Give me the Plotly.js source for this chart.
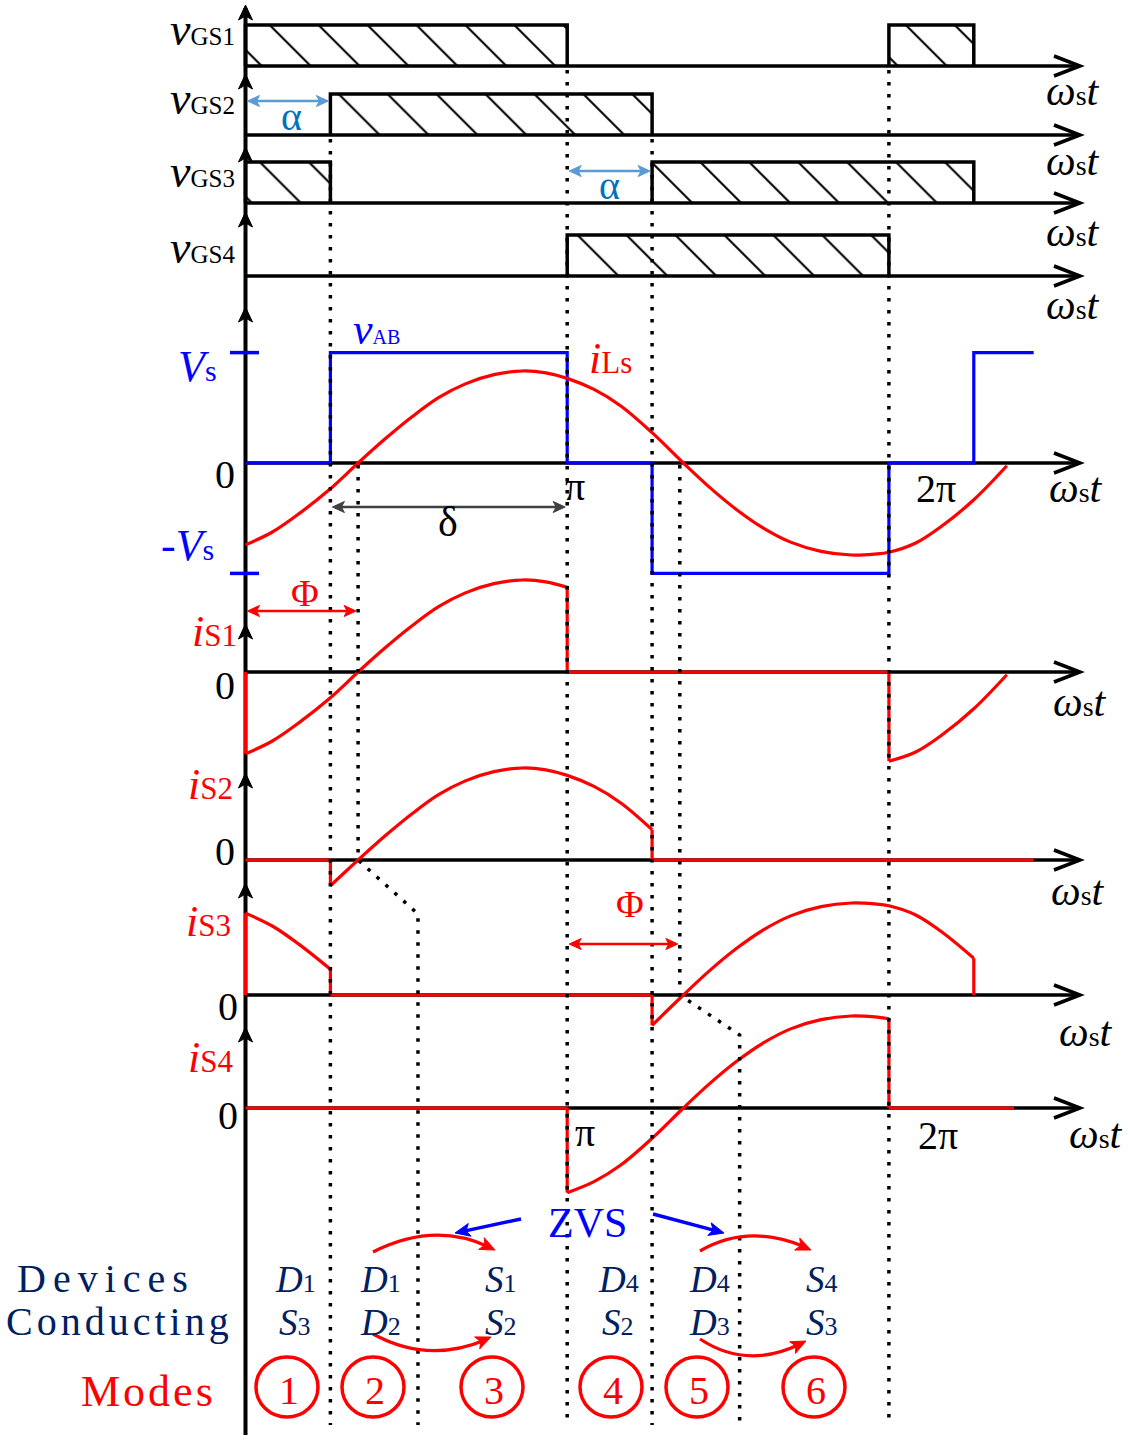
<!DOCTYPE html>
<html>
<head>
<meta charset="utf-8">
<script src="https://cdn.plot.ly/plotly-3.0.1.min.js"></script>
<style>html,body{margin:0;padding:0;background:#fff}</style>
</head>
<body>
<div id="chart" style="width:1129px;height:1435px"></div>
<script>
// ---------------- waveform data (angles in degrees of ωs·t) ----------------
const ALPHA = 47.5;   // gate shift α between the two legs
const PHI = 63;       // lag Φ of the resonant current
const MODE3 = 96.5;   // S1/S2 take over from the diodes
const MODE6 = 276.5;  // S3/S4 take over from the diodes

// resonant inductor current i_Ls (per-unit of its peak)
const theta = [0, 15, 30, 47.5, 63, 78, 93, 108, 123, 139, 155, 168, 180, 195, 210, 227.5,
               245, 260, 275, 290, 305, 322, 339, 352, 360, 375, 390, 407.5, 426];
const iLs   = [-0.89, -0.75, -0.55, -0.28, 0, 0.26, 0.50, 0.71, 0.86, 0.96, 1.00, 0.98, 0.92, 0.80, 0.62, 0.33,
               0, -0.27, -0.51, -0.71, -0.86, -0.96, -1.00, -0.99, -0.97, -0.87, -0.68, -0.40, -0.03];

// bridge output voltage v_AB (step levels, Vs = 1.2)
const vabTimes  = [0, 47.5, 180, 227.5, 360, 407.5, 441];
const vabLevels = [0, 1.2, 0, -1.2, 0, 1.2, 1.2];
const VS_LEVEL = 1.2;

// gate pulses (on-intervals)
const gate1 = [[0, 180], [360, 407.5]];
const gate2 = [[47.5, 227.5]];
const gate3 = [[0, 47.5], [227.5, 407.5]];
const gate4 = [[180, 360]];

// switch conduction windows, polarity relative to i_Ls, and idle (zero) runs
const s1Windows = [[0, 180], [360, 426]];      const s1Zero = [[180, 360]];              const s1Sign = 1;
const s2Windows = [[47.5, 227.5]];             const s2Zero = [[0, 47.5], [227.5, 441]]; const s2Sign = 1;
const s3Windows = [[0, 47.5], [227.5, 407.5]]; const s3Zero = [[47.5, 227.5]];           const s3Sign = -1;
const s4Windows = [[180, 360]];                const s4Zero = [[0, 180], [360, 430]];    const s4Sign = -1;

// conducting devices per mode (letter, index)
const modeTop = [['D', '1'], ['D', '1'], ['S', '1'], ['D', '4'], ['D', '4'], ['S', '4']];
const modeBot = [['S', '3'], ['D', '2'], ['S', '2'], ['S', '2'], ['D', '3'], ['S', '3']];
const modeNums = ['1', '2', '3', '4', '5', '6'];

// ---------------- drawing ----------------
const W = 1129, H = 1435;
const X0 = 245.5;               // pixel column of ωs·t = 0
const DEG = 321.7 / 180;        // pixels per degree
const SERIF = '"Liberation Serif", "DejaVu Serif", serif';
const RED = '#ff0000', BLUE = '#0000ff', NAVY = '#002060', BLACK = '#000000';

const px = x => x / W;
const py = y => 1 - y / H;

// each row gets its own hidden y-axis: zero line pixel and pixels per unit
const rowDefs = [
  {id: 'y',  key: 'g1',  zero: 66,   unit: 41},
  {id: 'y2', key: 'g2',  zero: 135,  unit: 41},
  {id: 'y3', key: 'g3',  zero: 203,  unit: 41},
  {id: 'y4', key: 'g4',  zero: 276,  unit: 41},
  {id: 'y5', key: 'vab', zero: 463,  unit: 92},
  {id: 'y6', key: 's1',  zero: 672,  unit: 92},
  {id: 'y7', key: 's2',  zero: 860,  unit: 92},
  {id: 'y8', key: 's3',  zero: 995,  unit: 92},
  {id: 'y9', key: 's4',  zero: 1108, unit: 92}
];
const R = {}; rowDefs.forEach(r => R[r.key] = r);

const layout = {
  width: W, height: H, autosize: false,
  margin: {l: 0, r: 0, t: 0, b: 0, pad: 0},
  paper_bgcolor: '#ffffff', plot_bgcolor: 'rgba(0,0,0,0)',
  showlegend: false,
  font: {family: SERIF},
  xaxis: {domain: [0, 1], range: [-X0 / DEG, (W - X0) / DEG], visible: false, fixedrange: true},
  shapes: [], annotations: []
};
rowDefs.forEach((r, i) => {
  const name = i === 0 ? 'yaxis' : 'yaxis' + (i + 1);
  layout[name] = {domain: [0, 1], range: [(r.zero - H) / r.unit, r.zero / r.unit],
                  visible: false, fixedrange: true};
  if (i > 0) layout[name].overlaying = 'y';
});

const traces = [];

// --- gate pulses with hatched fill ---
function gateTraces(wins, row) {
  wins.forEach(([a, b]) => {
    traces.push({
      x: [a, a, b, b], y: [0, 1, 1, 0], yaxis: row.id, mode: 'lines', fill: 'toself',
      fillcolor: 'rgba(0,0,0,0)',
      fillpattern: {shape: '\\', size: 34.6, solidity: 0.06, fgcolor: BLACK, fgopacity: 1},
      line: {color: BLACK, width: 3.5}, hoverinfo: 'skip'
    });
  });
}
gateTraces(gate1, R.g1); gateTraces(gate2, R.g2); gateTraces(gate3, R.g3); gateTraces(gate4, R.g4);

// --- v_AB and i_Ls ---
traces.push({x: vabTimes, y: vabLevels, yaxis: R.vab.id, mode: 'lines',
             line: {color: BLUE, width: 3.2, shape: 'hv'}, hoverinfo: 'skip'});
traces.push({x: theta, y: iLs, yaxis: R.vab.id, mode: 'lines',
             line: {color: RED, width: 3.2, shape: 'spline', smoothing: 1}, hoverinfo: 'skip'});

// --- switch currents: pieces of i_Ls inside each conduction window ---
const END = theta[theta.length - 1];
const valAt = t => iLs[theta.indexOf(t)];
function switchTraces(wins, zeros, sign, row) {
  const base = {yaxis: row.id, mode: 'lines', hoverinfo: 'skip'};
  wins.forEach(([a, b]) => {
    const xs = [], ys = [];
    theta.forEach((t, i) => { if (t >= a && t <= b) { xs.push(t); ys.push(sign * iLs[i]); } });
    traces.push(Object.assign({x: xs, y: ys, line: {color: RED, width: 3.2, shape: 'spline', smoothing: 1}}, base));
    [a, b].forEach(edge => {
      if (edge < END) traces.push(Object.assign({x: [edge, edge], y: [0, sign * valAt(edge)],
                                                 line: {color: RED, width: 3.2}}, base));
    });
  });
  zeros.forEach(([a, b]) => traces.push(Object.assign({x: [a, b], y: [0, 0], line: {color: RED, width: 3.2}}, base)));
}
switchTraces(s1Windows, s1Zero, s1Sign, R.s1);
switchTraces(s2Windows, s2Zero, s2Sign, R.s2);
switchTraces(s3Windows, s3Zero, s3Sign, R.s3);
switchTraces(s4Windows, s4Zero, s4Sign, R.s4);

// ---------------- axes (drawn under the traces) ----------------
const S = layout.shapes;
const pathP = pts => 'M' + pts.map(([x, y]) => px(x) + ',' + py(y)).join('L');
const AX_END = 1079;
S.push({type: 'line', xref: 'paper', yref: 'paper', x0: px(X0), x1: px(X0), y0: py(8), y1: py(H),
        line: {color: BLACK, width: 4}, layer: 'below'});
[5, 74, 147, 212, 307, 624, 773, 883, 1027].forEach(tip => {
  S.push({type: 'path', xref: 'paper', yref: 'paper',
          path: pathP([[X0, tip], [X0 - 7, tip + 15], [X0, tip + 11], [X0 + 7, tip + 15]]) + 'Z',
          fillcolor: BLACK, line: {color: BLACK, width: 1}, layer: 'below'});
});
rowDefs.forEach(r => {
  S.push({type: 'line', xref: 'paper', yref: 'paper', x0: px(X0), x1: px(AX_END), y0: py(r.zero), y1: py(r.zero),
          line: {color: BLACK, width: 3.5}, layer: 'below'});
  S.push({type: 'path', xref: 'paper', yref: 'paper',
          path: pathP([[AX_END - 25, r.zero - 10], [AX_END + 1, r.zero], [AX_END - 25, r.zero + 10]]),
          line: {color: BLACK, width: 3.5}, layer: 'below'});
});
[VS_LEVEL, -VS_LEVEL].forEach(v => {
  S.push({type: 'line', xref: 'paper', yref: R.vab.id, x0: px(230), x1: px(259), y0: v, y1: v,
          line: {color: BLUE, width: 3.5}, layer: 'below'});
});

// ---------------- dotted mode boundaries ----------------
const DOT = {color: BLACK, width: 3.5, dash: '3.5px,8.5px'};
function dotted(pts) {
  S.push({type: 'path', xref: 'x', yref: 'paper',
          path: 'M' + pts.map(([t, y]) => t + ',' + py(y)).join('L'), line: DOT, layer: 'above'});
}
dotted([[ALPHA, 139], [ALPHA, 1425]]);
dotted([[PHI, R.vab.zero + 2], [PHI, R.s2.zero], [MODE3, 914], [MODE3, 1425]]);
dotted([[180, 70], [180, 1425]]);
dotted([[180 + ALPHA, 139], [180 + ALPHA, 1425]]);
dotted([[180 + PHI, R.vab.zero + 2], [180 + PHI, R.s3.zero], [MODE6, 1035], [MODE6, 1425]]);
dotted([[360, 70], [360, 1418]]);

// ---------------- arrows ----------------
// filled arrowhead at pixel point (hx,hy) pointing along (ux,uy)
function headPx(hx, hy, ux, uy, color, len, half) {
  const m = Math.hypot(ux, uy); ux /= m; uy /= m;
  const nx = -uy, ny = ux;
  const bx = hx - len * ux, by = hy - len * uy;
  S.push({type: 'path', xref: 'paper', yref: 'paper', layer: 'above',
          path: pathP([[hx, hy], [bx + half * nx, by + half * ny], [bx + 0.25 * len * ux, by + 0.25 * len * uy],
                       [bx - half * nx, by - half * ny]]) + 'Z',
          fillcolor: color, line: {color: color, width: 1}});
}
// straight arrow between two pixel points
function arrowPx(tx, ty, hx, hy, color, width) {
  const m = Math.hypot(hx - tx, hy - ty), ux = (hx - tx) / m, uy = (hy - ty) / m;
  S.push({type: 'line', xref: 'paper', yref: 'paper', layer: 'above',
          x0: px(tx), y0: py(ty), x1: px(hx - 8 * ux), y1: py(hy - 8 * uy), line: {color: color, width: width}});
  headPx(hx, hy, ux, uy, color, 15, 6.5);
}
// double-headed span between two angles at a pixel row
function spanArrow(t0, t1, y, color, width) {
  const g = 2 / DEG, L = 12 / DEG;
  S.push({type: 'line', xref: 'x', yref: 'paper', layer: 'above', x0: t0 + g + L * 0.6, x1: t1 - g - L * 0.6,
          y0: py(y), y1: py(y), line: {color: color, width: width}});
  [[t1 - g, 1], [t0 + g, -1]].forEach(([t, d]) => {
    S.push({type: 'path', xref: 'x', yref: 'paper', layer: 'above',
            path: 'M' + t + ',' + py(y) + 'L' + (t - d * L) + ',' + py(y - 5.5) + 'L' + (t - d * L * 0.75) + ',' + py(y) +
                  'L' + (t - d * L) + ',' + py(y + 5.5) + 'Z',
            fillcolor: color, line: {color: color, width: 1}});
  });
}

// ZVS transition arcs (quadratic curves with heads)
const arcs = [
  [[373, 1252], [434, 1221], [495, 1250]],
  [[373, 1334], [428, 1364], [491, 1337]],
  [[700, 1251], [748, 1223], [811, 1250]],
  [[700, 1339], [747, 1370], [806, 1341]]
];
arcs.forEach(([p0, c, p2]) => {
  S.push({type: 'path', xref: 'paper', yref: 'paper', layer: 'above',
          path: 'M' + px(p0[0]) + ',' + py(p0[1]) + 'Q' + px(c[0]) + ',' + py(c[1]) + ' ' + px(p2[0] - 6) + ',' + py(p2[1] - 3 * Math.sign(p2[1] - c[1])),
          line: {color: RED, width: 3.2}});
  headPx(p2[0], p2[1], p2[0] - c[0], p2[1] - c[1], RED, 15, 6.5);
});
arrowPx(521, 1219, 455, 1233, BLUE, 3.5);
arrowPx(653, 1214, 724, 1233, BLUE, 3.5);

spanArrow(0, ALPHA, 101, '#5b9bd5', 2.5);
spanArrow(180, 180 + ALPHA, 171, '#5b9bd5', 2.5);
spanArrow(ALPHA, 180, 507, '#404040', 2.5);
spanArrow(0, PHI, 611, RED, 2.5);
spanArrow(180, 180 + PHI, 944, RED, 2.5);

// mode circles
const circleX = [287, 373, 492, 611, 697, 814];
circleX.forEach(cx => {
  S.push({type: 'circle', xref: 'paper', yref: 'paper', layer: 'above',
          x0: px(cx - 31), x1: px(cx + 31), y0: py(1357), y1: py(1417),
          line: {color: RED, width: 3.5}});
});

// ---------------- text ----------------
const A = layout.annotations;
function label(text, x, y, size, color, extra) {
  A.push(Object.assign({xref: 'paper', yref: 'paper', x: px(x), y: py(y), text: text, showarrow: false,
                        font: {family: SERIF, size: size, color: color}, xanchor: 'center', yanchor: 'middle'}, extra || {}));
}
const small = (s, size) => '<span style="font-size:' + size + 'px">' + s + '</span>';

const gs = n => '<i>v</i>' + small('GS' + n, 25);
label(gs(1), 237, 29, 46, BLACK, {xanchor: 'right'});
label(gs(2), 237, 98, 46, BLACK, {xanchor: 'right'});
label(gs(3), 237, 172, 46, BLACK, {xanchor: 'right'});
label(gs(4), 237, 248, 46, BLACK, {xanchor: 'right'});

const wst = '<i>ω</i>' + small('s', 28) + '<i>t</i>';
[[1073, 91], [1073, 161], [1073, 232], [1073, 305], [1076, 488], [1080, 702], [1078, 891], [1086, 1032], [1096, 1134]]
  .forEach(([x, y]) => label(wst, x, y, 42, BLACK));

label('α', 291, 116, 40, '#0070c0');
label('α', 609, 185, 40, '#0070c0');

label('<i>v</i>' + small('AB', 20), 376, 329, 44, BLUE);
label('<i>i</i>' + small('Ls', 31), 611, 358, 44, RED);
label('<i>V</i>' + small('s', 30), 197, 367, 44, BLUE);
label('-<i>V</i>' + small('s', 30), 187, 545, 44, BLUE);
label('0', 225, 475, 40, BLACK);
label('π', 575, 487, 40, BLACK);
label('2π', 936, 489, 40, BLACK);
label('δ', 448, 522, 42, BLACK);

label('Φ', 305, 593, 38, RED);
label('Φ', 630, 904, 38, RED);
const isw = n => '<i>i</i>' + small('S' + n, 31);
label(isw(1), 214, 631, 44, RED);
label(isw(2), 211, 785, 44, RED);
label(isw(3), 208, 921, 44, RED);
label(isw(4), 211, 1057, 44, RED);
label('0', 225, 685, 40, BLACK);
label('0', 225, 851, 40, BLACK);
label('0', 228, 1006, 40, BLACK);
label('0', 228, 1115, 40, BLACK);
label('π', 585, 1132, 40, BLACK);
label('2π', 938, 1135, 40, BLACK);

label('ZVS', 587, 1223, 42, BLUE);

label('<span style="letter-spacing:7px">Devices</span>', 106, 1278, 40, NAVY);
label('<span style="letter-spacing:4px">Conducting</span>', 119, 1321, 40, NAVY);
label('<span style="letter-spacing:3px">Modes</span>', 148, 1391, 44, RED);
const devX = [295, 380, 501, 618, 709, 822];
const dev = ([letter, idx]) => '<i>' + letter + '</i>' + small(idx, 26);
devX.forEach((x, i) => {
  label(dev(modeTop[i]), x, 1279, 37, NAVY);
  label(dev(modeBot[i]), x, 1322, 37, NAVY);
  label(modeNums[i], circleX[i] + 2, 1390, 40, RED);
});

Plotly.newPlot('chart', traces, layout, {staticPlot: true, displayModeBar: false});
</script>
</body>
</html>
